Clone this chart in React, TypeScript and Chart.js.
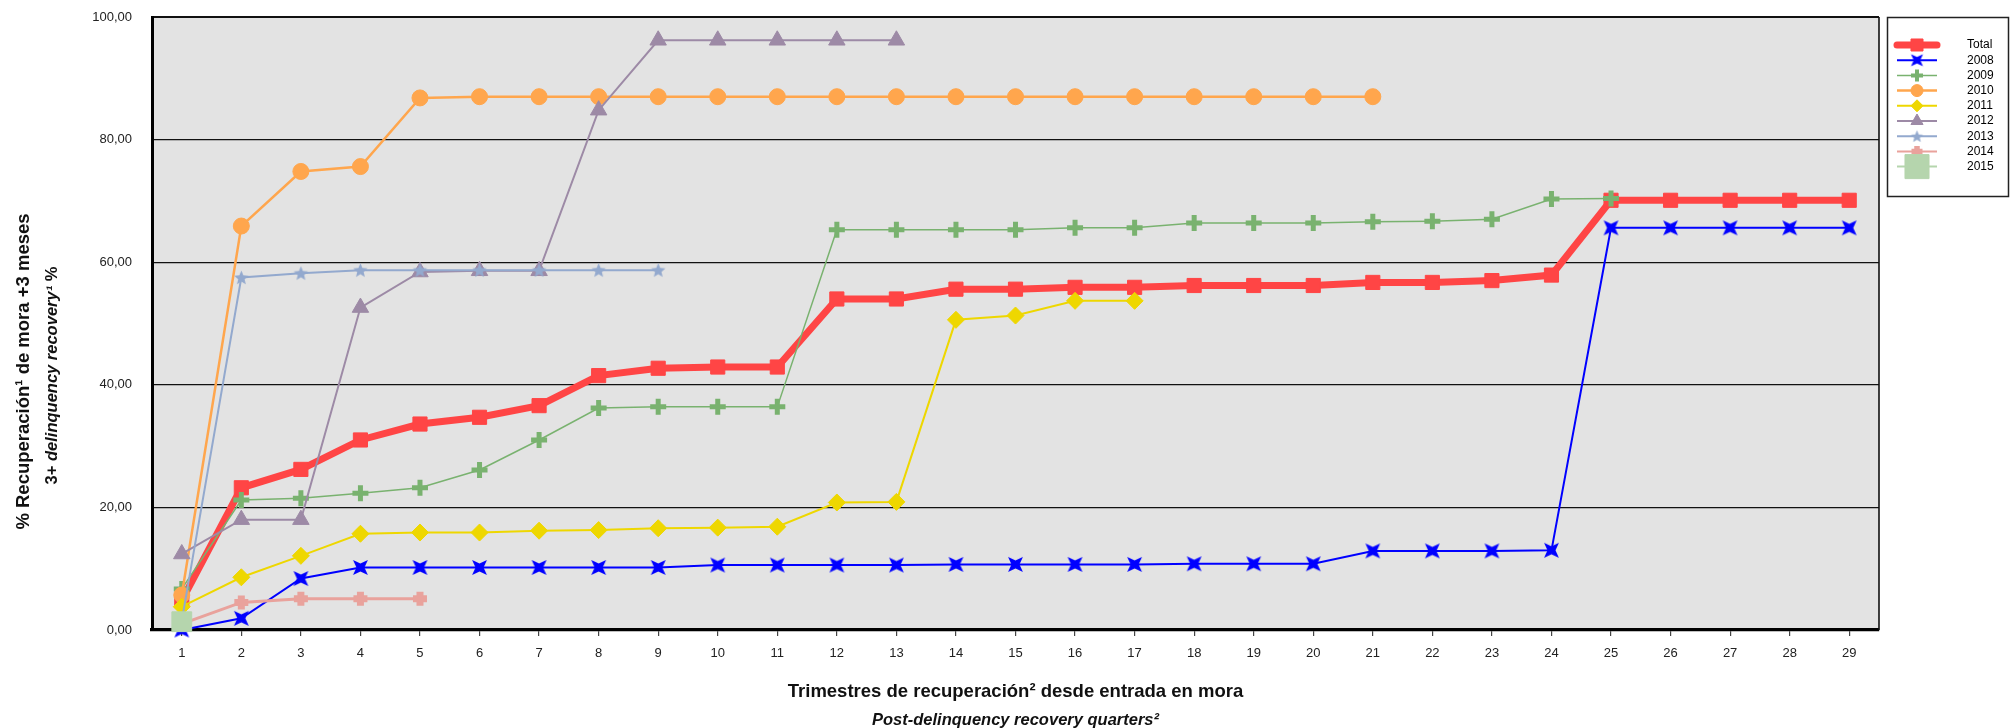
import React, { useEffect, useRef } from 'react';
import { Chart, registerables } from 'chart.js';
import { drawPoint } from 'chart.js/helpers';

Chart.register(...registerables);

const QUARTERS = ['1', '2', '3', '4', '5', '6', '7', '8', '9', '10', '11', '12', '13', '14', '15', '16', '17', '18', '19', '20', '21', '22', '23', '24', '25', '26', '27', '28', '29'];

const SERIES_NAMES = ['Total', '2008', '2009', '2010', '2011', '2012', '2013', '2014', '2015'];

const TOTAL = [4.8, 23.2, 26.2, 31.0, 33.6, 34.7, 36.6, 41.5, 42.7, 42.9, 42.9, 54.0, 54.0, 55.6, 55.6, 55.9, 55.9, 56.2, 56.2, 56.2, 56.7, 56.7, 57.0, 57.9, 70.1, 70.1, 70.1, 70.1, 70.1];
const Y2008 = [0, 1.9, 8.4, 10.2, 10.2, 10.2, 10.2, 10.2, 10.2, 10.6, 10.6, 10.6, 10.6, 10.7, 10.7, 10.7, 10.7, 10.8, 10.8, 10.8, 12.9, 12.9, 12.9, 13.0, 65.6, 65.6, 65.6, 65.6, 65.6];
const Y2009 = [6.7, 21.2, 21.5, 22.3, 23.2, 26.1, 31.0, 36.2, 36.4, 36.4, 36.4, 65.3, 65.3, 65.3, 65.3, 65.6, 65.6, 66.4, 66.4, 66.4, 66.6, 66.7, 67.0, 70.3, 70.4];
const Y2010 = [5.7, 65.9, 74.8, 75.6, 86.8, 87.0, 87.0, 87.0, 87.0, 87.0, 87.0, 87.0, 87.0, 87.0, 87.0, 87.0, 87.0, 87.0, 87.0, 87.0, 87.0];
const Y2011 = [3.8, 8.6, 12.1, 15.7, 15.9, 15.9, 16.2, 16.3, 16.6, 16.7, 16.85, 20.8, 20.9, 50.6, 51.3, 53.7, 53.7];
const Y2012 = [12.4, 18.0, 18.0, 52.6, 58.4, 58.6, 58.6, 84.8, 96.2, 96.2, 96.2, 96.2, 96.2];
const Y2013 = [1.5, 57.5, 58.2, 58.7, 58.7, 58.7, 58.7, 58.7, 58.7];
const Y2014 = [1.0, 4.5, 5.1, 5.1, 5.1];
const Y2015 = [1.35];

const SERIES_VALUES = [TOTAL, Y2008, Y2009, Y2010, Y2011, Y2012, Y2013, Y2014, Y2015];

const Y_MIN = 0;
const Y_MAX = 100;
const Y_STEP = 20;

const Y_TITLE = '% Recuperación¹ de mora +3 meses';
const Y_SUB = ['3+ ', 'delinquency recovery¹', ' %'];
const X_TITLE = 'Trimestres de recuperación² desde entrada en mora';
const X_SUB = 'Post-delinquency recovery quarters²';

const FONT = "'Liberation Sans', Arial, sans-serif";

type Style = {
  color: string;
  line: number;
  pointStyle: string;
  radius: number;
  pointBorder: number;
  legendRadius: number;
  legendBorder: number;
  legendLine: number;
};

// 'star4' and 'star5' are custom drawn marker shapes
const STYLES: Style[] = [
  { color: '#FF4545', line: 7, pointStyle: 'rect', radius: 10, pointBorder: 1, legendRadius: 8.5, legendBorder: 1, legendLine: 7 },
  { color: '#0000FF', line: 2, pointStyle: 'star4', radius: 10.5, pointBorder: 0, legendRadius: 8.5, legendBorder: 0, legendLine: 2 },
  { color: '#79B26F', line: 1.5, pointStyle: 'cross', radius: 8, pointBorder: 5, legendRadius: 6, legendBorder: 4, legendLine: 1.5 },
  { color: '#FFA64D', line: 2.5, pointStyle: 'circle', radius: 8, pointBorder: 1, legendRadius: 6, legendBorder: 1, legendLine: 2.5 },
  { color: '#EED700', line: 2, pointStyle: 'rectRot', radius: 8.5, pointBorder: 1, legendRadius: 6, legendBorder: 1, legendLine: 2 },
  { color: '#9D8AA6', line: 2, pointStyle: 'triangle', radius: 9.5, pointBorder: 1, legendRadius: 7, legendBorder: 1, legendLine: 2 },
  { color: '#93A9CE', line: 2, pointStyle: 'star5', radius: 7.5, pointBorder: 0, legendRadius: 6.5, legendBorder: 0, legendLine: 2 },
  { color: '#E9A29C', line: 3, pointStyle: 'cross', radius: 7, pointBorder: 7, legendRadius: 5.5, legendBorder: 5.5, legendLine: 2 },
  { color: '#B5D5AD', line: 1.5, pointStyle: 'rect', radius: 14, pointBorder: 1, legendRadius: 17, legendBorder: 1, legendLine: 2 },
];

function makeStar(kind: string, R: number, color: string): HTMLCanvasElement {
  const size = Math.ceil(R * 2 + 2);
  const c = document.createElement('canvas');
  c.width = size;
  c.height = size;
  const g = c.getContext('2d') as CanvasRenderingContext2D;
  const cx = size / 2;
  const cy = size / 2;
  g.fillStyle = color;
  g.beginPath();
  if (kind === 'star4') {
    const r = R * 0.38;
    for (let k = 0; k < 8; k++) {
      const ang = (k * Math.PI) / 4 + Math.PI / 4;
      const rad = k % 2 === 0 ? R : r;
      const x = cx + Math.cos(ang) * rad;
      const y = cy + Math.sin(ang) * rad;
      if (k === 0) g.moveTo(x, y);
      else g.lineTo(x, y);
    }
  } else {
    const r = R * 0.45;
    for (let k = 0; k < 10; k++) {
      const ang = -Math.PI / 2 + (k * Math.PI) / 5;
      const rad = k % 2 === 0 ? R : r;
      const x = cx + Math.cos(ang) * rad;
      const y = cy + 0.6 + Math.sin(ang) * rad;
      if (k === 0) g.moveTo(x, y);
      else g.lineTo(x, y);
    }
  }
  g.closePath();
  g.fill();
  return c;
}

function resolveStyle(st: Style, legend: boolean): any {
  if (st.pointStyle === 'star4' || st.pointStyle === 'star5') {
    return makeStar(st.pointStyle, legend ? st.legendRadius : st.radius, st.color);
  }
  return st.pointStyle;
}

const backgroundPlugin = {
  id: 'plotBg',
  beforeDraw(chart: any) {
    const { ctx, chartArea } = chart;
    ctx.save();
    ctx.fillStyle = '#E3E3E3';
    ctx.fillRect(chartArea.left, chartArea.top, chartArea.right - chartArea.left, chartArea.bottom - chartArea.top);
    ctx.restore();
  },
  beforeDatasetsDraw(chart: any) {
    const { ctx, chartArea } = chart;
    ctx.save();
    ctx.strokeStyle = '#111';
    ctx.lineWidth = 1.6;
    ctx.beginPath();
    ctx.moveTo(chartArea.right, chartArea.top);
    ctx.lineTo(chartArea.right, chartArea.bottom);
    ctx.stroke();
    ctx.restore();
  },
};

const titlesPlugin = {
  id: 'titles',
  afterDraw(chart: any) {
    const { ctx, chartArea } = chart;
    const cx = (chartArea.left + chartArea.right) / 2;
    ctx.save();
    ctx.fillStyle = '#111';
    ctx.textBaseline = 'alphabetic';
    ctx.textAlign = 'center';
    ctx.font = `bold 18.5px ${FONT}`;
    ctx.fillText(X_TITLE, cx, chartArea.bottom + 67);
    ctx.font = `italic bold 16.5px ${FONT}`;
    ctx.fillText(X_SUB, cx, chartArea.bottom + 95);
    const cy = (chartArea.top + chartArea.bottom) / 2 + 48;
    ctx.save();
    ctx.translate(28.5, cy);
    ctx.rotate(-Math.PI / 2);
    ctx.font = `bold 18.5px ${FONT}`;
    ctx.fillText(Y_TITLE, 0, 0);
    ctx.restore();
    ctx.save();
    ctx.translate(56.5, cy + 4);
    ctx.rotate(-Math.PI / 2);
    ctx.textAlign = 'left';
    const fonts = [`bold 16.5px ${FONT}`, `italic bold 16.5px ${FONT}`, `bold 16.5px ${FONT}`];
    const widths = Y_SUB.map((t, i) => {
      ctx.font = fonts[i];
      return ctx.measureText(t).width;
    });
    let x = -widths.reduce((a, b) => a + b, 0) / 2;
    Y_SUB.forEach((t, i) => {
      ctx.font = fonts[i];
      ctx.fillText(t, x, 0);
      x += widths[i];
    });
    ctx.restore();
    ctx.restore();
  },
};

const legendPoints: any[] = [];

const legendPlugin = {
  id: 'boxLegend',
  afterDraw(chart: any) {
    const { ctx, chartArea } = chart;
    const left = chartArea.right + 8;
    const top = 17;
    const w = 121;
    const h = 179;
    ctx.save();
    ctx.fillStyle = '#FFFFFF';
    ctx.fillRect(left, top, w, h);
    ctx.strokeStyle = '#222';
    ctx.lineWidth = 1.5;
    ctx.strokeRect(left + 0.5, top + 0.5, w, h);
    chart.data.datasets.forEach((ds: any, i: number) => {
      const st = STYLES[i];
      const y = top + 28 + i * 15.2;
      const x0 = left + 10;
      const x1 = left + 50;
      ctx.strokeStyle = st.color;
      ctx.lineWidth = st.legendLine;
      ctx.lineCap = i === 0 ? 'round' : 'butt';
      ctx.beginPath();
      ctx.moveTo(x0, y);
      ctx.lineTo(x1, y);
      ctx.stroke();
      ctx.lineCap = 'butt';
      ctx.fillStyle = st.color;
      ctx.strokeStyle = st.color;
      ctx.lineWidth = st.legendBorder;
      drawPoint(ctx, { pointStyle: legendPoints[i], radius: st.legendRadius, rotation: 0, borderWidth: st.legendBorder }, (x0 + x1) / 2, y);
      ctx.fillStyle = '#000';
      ctx.font = `12px ${FONT}`;
      ctx.textAlign = 'left';
      ctx.textBaseline = 'middle';
      ctx.fillText(ds.label, left + 80, y);
    });
    ctx.restore();
  },
};

export default function App() {
  const canvasRef = useRef<HTMLCanvasElement | null>(null);

  useEffect(() => {
    if (!canvasRef.current) return;
    STYLES.forEach((st, i) => {
      legendPoints[i] = resolveStyle(st, true);
    });
    const datasets = SERIES_NAMES.map((name, i) => {
      const st = STYLES[i];
      return {
        label: name,
        data: SERIES_VALUES[i],
        borderColor: st.color,
        backgroundColor: st.color,
        borderWidth: st.line,
        pointStyle: resolveStyle(st, false),
        pointRadius: st.radius,
        pointHoverRadius: st.radius,
        pointBorderWidth: st.pointBorder,
        pointBackgroundColor: st.color,
        pointBorderColor: st.color,
        tension: 0,
        fill: false,
        clip: false as any,
        order: SERIES_NAMES.length - i,
      };
    });

    const chart = new Chart(canvasRef.current, {
      type: 'line',
      data: { labels: QUARTERS, datasets },
      plugins: [backgroundPlugin, titlesPlugin, legendPlugin],
      options: {
        animation: false,
        responsive: true,
        maintainAspectRatio: false,
        events: [],
        layout: { padding: { left: 0, top: 17, right: 136, bottom: 0 } },
        plugins: {
          legend: { display: false },
          tooltip: { enabled: false },
          title: { display: false },
        },
        scales: {
          x: {
            type: 'category',
            offset: true,
            afterFit(scale: any) {
              scale.height = 98;
              scale.paddingLeft = 0;
              scale.paddingRight = 0;
            },
            grid: {
              display: true,
              drawOnChartArea: false,
              drawTicks: true,
              tickLength: 6,
              offset: false,
              color: '#444',
              lineWidth: 1.2,
            },
            border: { display: true, color: '#000', width: 3.2 },
            ticks: {
              padding: 10,
              color: '#222',
              font: { family: FONT, size: 13 },
              autoSkip: false,
              maxRotation: 0,
            },
          },
          y: {
            min: Y_MIN,
            max: Y_MAX,
            afterFit(scale: any) {
              scale.width = 152;
              scale.paddingTop = 0;
              scale.paddingBottom = 0;
            },
            grid: {
              color: '#111',
              lineWidth: (c: any) => (c.tick && c.tick.value === Y_MAX ? 2 : 1.2),
              drawTicks: false,
            },
            border: { display: true, color: '#000', width: 3 },
            ticks: {
              stepSize: Y_STEP,
              padding: 20,
              color: '#222',
              font: { family: FONT, size: 13 },
              callback: (v: any) => Number(v).toFixed(2).replace('.', ','),
            },
          },
        },
      },
    });
    return () => chart.destroy();
  }, []);

  return (
    <div style={{ position: 'absolute', left: 0, top: 0, width: 2015, height: 728, background: '#fff' }}>
      <canvas ref={canvasRef} />
    </div>
  );
}
